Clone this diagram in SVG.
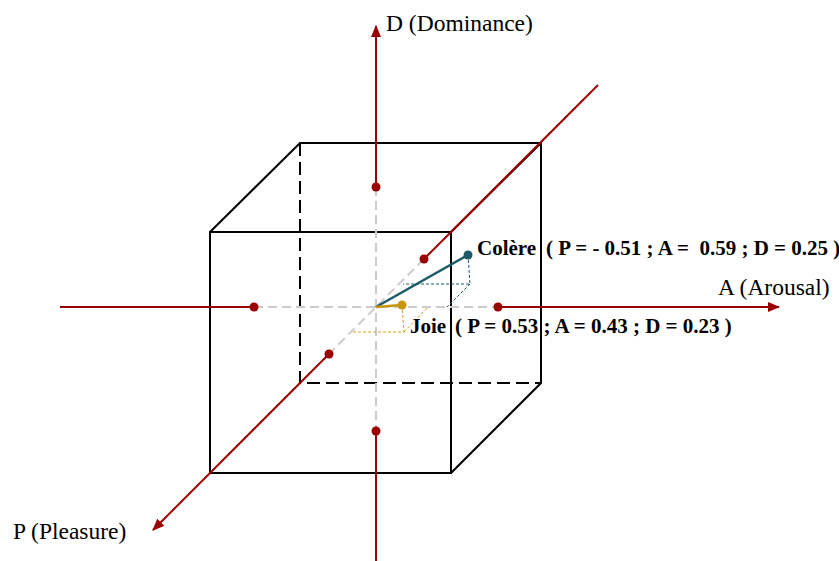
<svg xmlns="http://www.w3.org/2000/svg" width="839" height="561" viewBox="0 0 839 561">
<defs>
<style>
.cube{stroke:#000;stroke-width:2;fill:none}
.hid{stroke:#000;stroke-width:2;fill:none;stroke-dasharray:13 6}
.ax{stroke:#9b0000;stroke-width:2;fill:none}
.gd{stroke:#cccccc;stroke-width:2;fill:none;stroke-dasharray:9 5}
.dot{fill:#9b0000}
.lbl{font-family:"Liberation Serif","Times New Roman",serif;font-size:23.5px;fill:#000}
.bl{font-family:"Liberation Serif","Times New Roman",serif;font-size:21px;font-weight:bold;fill:#000}
.tp{stroke:#1d5a68;stroke-width:1;fill:none;stroke-dasharray:3 2}
.gp{stroke:#d4a017;stroke-width:1;fill:none;stroke-dasharray:3 2}
</style>
<marker id="arr" viewBox="0 0 12 10" refX="11" refY="5" markerWidth="12" markerHeight="10" markerUnits="userSpaceOnUse" orient="auto">
<path d="M0,0 L12,5 L0,10 Z" fill="#9b0000"/>
</marker>
</defs>
<g id="cube">
<rect class="cube" x="210" y="232" width="241" height="241"/>
<polyline class="cube" points="210,232 300,143 541,143 541,383 451,473"/>
<line class="cube" x1="451" y1="232" x2="541" y2="143"/>
<polyline class="hid" points="300,143 300,383 541,383"/>
</g>
<g id="connectors">
<line class="gd" x1="376" y1="187" x2="376" y2="431"/>
<line class="gd" x1="254" y1="307" x2="498" y2="307"/>
<line class="gd" x1="424" y1="259" x2="329" y2="354"/>
<line class="ax" x1="376" y1="187" x2="376" y2="26" marker-end="url(#arr)"/>
<line class="ax" x1="376" y1="431" x2="376" y2="561"/>
<line class="ax" x1="498" y1="307" x2="779" y2="307" marker-end="url(#arr)"/>
<line class="ax" x1="254" y1="307" x2="60" y2="307"/>
<line class="ax" x1="424" y1="259" x2="598" y2="85"/>
<line class="ax" x1="329" y1="354" x2="153" y2="530" marker-end="url(#arr)"/>
<circle class="dot" cx="376" cy="187" r="4.5"/>
<circle class="dot" cx="376" cy="431" r="4.5"/>
<circle class="dot" cx="254" cy="307" r="4.5"/>
<circle class="dot" cx="498" cy="307" r="4.5"/>
<circle class="dot" cx="424" cy="259" r="4.5"/>
<circle class="dot" cx="329" cy="354" r="4.5"/>
</g>
<g id="colere">
<polyline class="tp" points="468,255 470,284 403,284"/>
<line class="tp" x1="470" y1="284" x2="447" y2="307"/>
<line x1="376" y1="307" x2="468" y2="255" stroke="#1d5a68" stroke-width="2.5"/>
<circle cx="468" cy="255" r="4.5" fill="#1d5a68"/>
<text class="bl" x="477" y="255">Colère</text>
<text class="bl" x="546" y="255" xml:space="preserve">( P = - 0.51 ; A =  0.59 ; D = 0.25 )</text>
</g>
<g id="joie">
<polyline class="gp" points="402,305 404,332 351,332"/>
<line class="gp" x1="404" y1="332" x2="427" y2="308"/>
<line x1="376" y1="307" x2="402" y2="305" stroke="#c8960c" stroke-width="2.5"/>
<circle cx="402" cy="305" r="4.5" fill="#c8960c"/>
<text class="bl" x="410" y="333">Joie</text>
<text class="bl" x="455" y="333">( P = 0.53 ; A = 0.43 ; D = 0.23 )</text>
</g>
<g id="labels">
<text class="lbl" x="386" y="31">D (Dominance)</text>
<text class="lbl" x="718" y="295">A (Arousal)</text>
<text class="lbl" x="13" y="539">P (Pleasure)</text>
</g>
</svg>
